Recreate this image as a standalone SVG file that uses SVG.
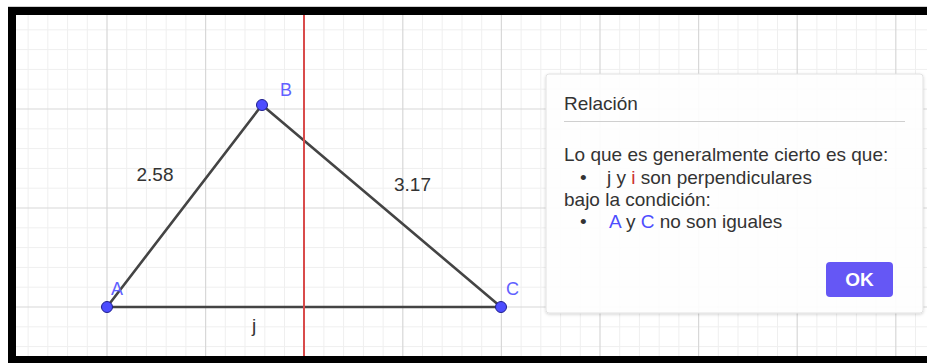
<svg xmlns="http://www.w3.org/2000/svg" width="927" height="363" viewBox="0 0 927 363">
<style>
.minor{stroke:#efefef;stroke-width:1;fill:none}
.major{stroke:#d8d8d8;stroke-width:1.2;fill:none}
.seg{stroke:#444;stroke-width:2.6;stroke-linecap:round;fill:none}
.pt{fill:#4d4dff;stroke:#1f1f8f;stroke-width:1}
.plabel{font-family:"Liberation Sans",Arial,sans-serif;font-size:18px;fill:#6161ff}
.val{font-family:"Liberation Sans",Arial,sans-serif;font-size:19px;fill:#333}
.dtxt{font-family:"Liberation Sans",Arial,sans-serif;font-size:19px;fill:#333}
.blue{fill:#4d4dff}
.red{fill:#cc3333}
</style>
<defs>
<filter id="sh" x="-5%" y="-5%" width="110%" height="115%">
<feDropShadow dx="0" dy="1" stdDeviation="1.5" flood-color="#000" flood-opacity="0.18"/>
</filter>
</defs>
<rect x="0" y="0" width="927" height="363" fill="#fff"/>
<g id="grid">
<path class="minor" d="M28.1 15V356M47.8 15V356M67.6 15V356M87.3 15V356M126.7 15V356M146.4 15V356M166.2 15V356M185.9 15V356M225.3 15V356M245 15V356M264.8 15V356M284.5 15V356M323.9 15V356M343.6 15V356M363.4 15V356M383.1 15V356M422.5 15V356M442.2 15V356M462 15V356M481.7 15V356M521.1 15V356M540.8 15V356M560.6 15V356M580.3 15V356M619.7 15V356M639.4 15V356M659.2 15V356M678.9 15V356M718.3 15V356M738 15V356M757.8 15V356M777.5 15V356M816.9 15V356M836.6 15V356M856.4 15V356M876.1 15V356M915.5 15V356M16 29.8H927M16 49.6H927M16 69.4H927M16 89.2H927M16 128.8H927M16 148.6H927M16 168.4H927M16 188.2H927M16 227.8H927M16 247.6H927M16 267.4H927M16 287.2H927M16 326.8H927M16 346.6H927"/>
<path class="major" d="M107 15V356M205.6 15V356M304.2 15V356M402.8 15V356M501.4 15V356M600 15V356M698.6 15V356M797.2 15V356M895.8 15V356M16 109H927M16 208H927M16 307H927"/>
</g>
<g id="connectors">
<line class="seg" x1="107" y1="307" x2="262" y2="105"/>
<line class="seg" x1="262" y1="105" x2="501" y2="307"/>
<line class="seg" x1="107" y1="307" x2="501" y2="307"/>
</g>
<g id="line-i">
<line x1="304" y1="15" x2="304" y2="356" stroke="#d94b4b" stroke-width="2"/>
</g>
<g id="labels">
<text class="val" x="136.5" y="181">2.58</text>
<text class="val" x="394" y="191">3.17</text>
<text class="val" x="252" y="332">j</text>
</g>
<g id="pointA">
<circle class="pt" cx="107" cy="307" r="5.5"/>
<text class="plabel" x="111" y="295">A</text>
</g>
<g id="pointB">
<circle class="pt" cx="262" cy="105" r="5.5"/>
<text class="plabel" x="280" y="96">B</text>
</g>
<g id="pointC">
<circle class="pt" cx="501" cy="307" r="5.5"/>
<text class="plabel" x="506" y="295">C</text>
</g>
<g id="frame">
<rect x="0" y="0" width="927" height="7" fill="#fff"/>
<line x1="8" y1="6.5" x2="927" y2="6.5" stroke="#d0d0d0" stroke-width="1"/>
<rect x="8" y="7" width="919" height="8" fill="#000"/>
<rect x="0" y="7" width="8" height="356" fill="#fff"/>
<rect x="8" y="7" width="8" height="356" fill="#000"/>
<rect x="8" y="356" width="919" height="7" fill="#000"/>
</g>
<g id="dialog">
<rect x="546" y="74" width="377" height="239" rx="3" fill="#fff" fill-opacity="0.93" stroke="#e2e2e2" stroke-width="1" filter="url(#sh)"/>
<text class="dtxt" x="564" y="110" font-size="21" fill="#555">Relación</text>
<line x1="564" y1="121.5" x2="905" y2="121.5" stroke="#cfcfcf" stroke-width="1"/>
<text class="dtxt" x="564" y="161">Lo que es generalmente cierto es que:</text>
<text class="dtxt" x="580" y="183.5">•</text>
<text class="dtxt" x="607" y="183.5">j y <tspan class="red">i</tspan> son perpendiculares</text>
<text class="dtxt" x="564" y="206">bajo la condición:</text>
<text class="dtxt" x="580" y="228">•</text>
<text class="dtxt" x="609" y="228"><tspan class="blue">A</tspan> y <tspan class="blue">C</tspan> no son iguales</text>
<g id="ok-button">
<rect x="826" y="262" width="67" height="35" rx="4" fill="#6557f5"/>
<text x="859.5" y="286" text-anchor="middle" font-family="'Liberation Sans',Arial,sans-serif" font-size="19" font-weight="bold" fill="#fff">OK</text>
</g>
</g>
</svg>
